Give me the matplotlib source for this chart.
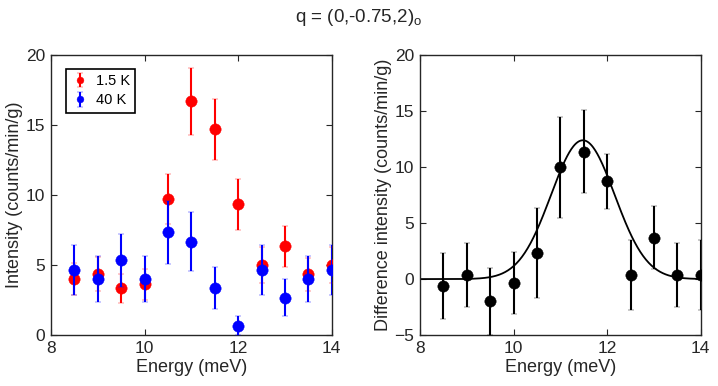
import numpy as np
import matplotlib
matplotlib.use("Agg")
import matplotlib.pyplot as plt

plt.rcParams['font.family'] = ['Liberation Sans', 'DejaVu Sans']
plt.rcParams['mathtext.fontset'] = 'custom'
plt.rcParams['mathtext.rm'] = 'Liberation Sans'

energy = [8.5, 9.0, 9.5, 10.0, 10.5, 11.0, 11.5, 12.0, 12.5, 13.0, 13.5, 14.0]
i_15K = [4.0, 4.36, 3.33, 3.64, 9.71, 16.7, 14.7, 9.33, 5.0, 6.33, 4.33, 5.0]
e_15K = [1.15, 1.2, 1.05, 1.1, 1.8, 2.37, 2.2, 1.8, 1.3, 1.45, 1.2, 1.3]
i_40K = [4.67, 4.0, 5.33, 4.0, 7.33, 6.67, 3.33, 0.67, 4.67, 2.67, 4.0, 4.67]
e_40K = [1.78, 1.64, 1.9, 1.64, 2.25, 2.1, 1.5, 0.67, 1.78, 1.33, 1.64, 1.78]
diff = [-0.65, 0.36, -2.0, -0.36, 2.35, 10.0, 11.37, 8.72, 0.36, 3.69, 0.36, 0.36]
e_diff = [2.95, 2.87, 3.0, 2.74, 4.0, 4.5, 3.7, 2.42, 3.1, 2.83, 2.86, 3.1]
# Gaussian fit parameters (amplitude, centre, sigma)
fit_amp, fit_x0, fit_sigma = 12.4, 11.48, 0.68

tc = '#262626'
fig = plt.figure(figsize=(7.18, 3.86), dpi=100)
ax1 = fig.add_axes([0.071, 0.132, 0.391, 0.725])
ax2 = fig.add_axes([0.585, 0.132, 0.391, 0.725])

eb = dict(fmt='o', ms=8.2, mew=0.3, capsize=2, elinewidth=1.5, capthick=1.5)
ax1.errorbar(energy, i_15K, yerr=e_15K, color='red', label='1.5 K', zorder=3, **eb)
ax1.errorbar(energy, i_40K, yerr=e_40K, color='blue', label='40 K', zorder=4, **eb)
ax1.set_xlim(8, 14)
ax1.set_ylim(0, 20)
ax1.set_xticks([8, 10, 12, 14])
ax1.set_yticks([0, 5, 10, 15, 20])
ax1.set_xlabel('Energy (meV)', fontsize=13, color=tc, labelpad=2.5)
ax1.set_ylabel('Intensity (counts/min/g)', fontsize=13, color=tc, labelpad=2)
leg = ax1.legend(loc='upper left', bbox_to_anchor=(0.053, 0.95), borderaxespad=0,
                 fontsize=10.5, fancybox=False, edgecolor='black', framealpha=1,
                 handletextpad=0.5, borderpad=0.35, labelspacing=0.35,
                 handlelength=1.2, markerscale=0.6)
leg.get_frame().set_linewidth(1.2)

xf = np.linspace(8, 14, 400)
ax2.plot(xf, fit_amp * np.exp(-(xf - fit_x0) ** 2 / (2 * fit_sigma ** 2)),
         color='black', lw=1.3, zorder=2)
ax2.errorbar(energy, diff, yerr=e_diff, color='black', zorder=3, **eb)
ax2.set_xlim(8, 14)
ax2.set_ylim(-5, 20)
ax2.set_xticks([8, 10, 12, 14])
ax2.set_yticks([-5, 0, 5, 10, 15, 20])
ax2.set_xlabel('Energy (meV)', fontsize=13, color=tc, labelpad=2.5)
ax2.set_ylabel('Difference intensity (counts/min/g)', fontsize=13, color=tc, labelpad=2)

for ax in (ax1, ax2):
    ax.tick_params(direction='in', top=True, right=True, labelsize=12.5,
                   colors=tc, length=4, pad=4)
    for s in ax.spines.values():
        s.set_color(tc)
        s.set_linewidth(1.0)

fig.text(0.5, 0.955, 'q = (0,-0.75,2)$_{\\rm o}$', ha='center', va='center',
         fontsize=13.5, color=tc)

fig.savefig('out.png', dpi=100)
